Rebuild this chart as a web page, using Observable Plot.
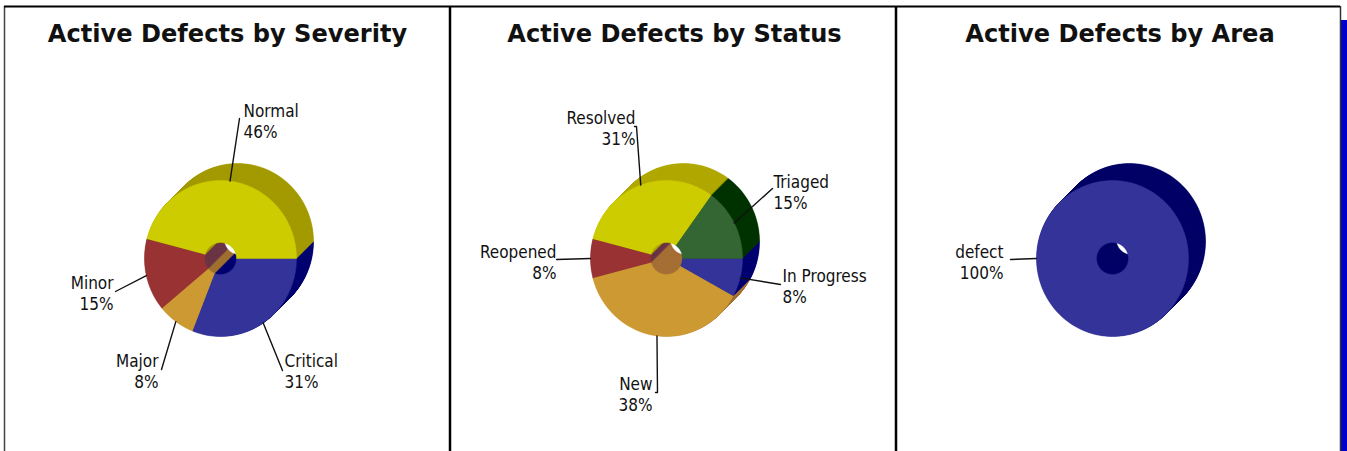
<!DOCTYPE html>
<html><head><meta charset="utf-8">
<style>html,body{margin:0;padding:0;background:#fff}svg{display:block}</style>
<script src="https://cdn.jsdelivr.net/npm/d3@7"></script>
<script src="https://cdn.jsdelivr.net/npm/@observablehq/plot@0.6"></script>
</head><body><div id="chart"></div>
<script>
// ---- data ----
const severityLabels = ["Critical", "Major", "Minor", "Normal"];
const severityValues = [31, 8, 15, 46];
const statusLabels = ["In Progress", "New", "Reopened", "Resolved", "Triaged"];
const statusValues = [8, 38, 8, 31, 15];
const areaLabels = ["defect"];
const areaValues = [100];
const titles = ["Active Defects by Severity", "Active Defects by Status", "Active Defects by Area"];

// ---- styles ----
const severityFront = ["#333399", "#cc9933", "#993333", "#cccc00"];
const severitySide = ["#000070", "#a07030", "#6b3545", "#a39a00"];
const statusFront = ["#333399", "#cc9933", "#993333", "#cccc00", "#336633"];
const statusSide = ["#000070", "#a56f35", "#6b3545", "#b0a800", "#003300"];
const areaFront = ["#333399"];
const areaSide = ["#000066"];

// ---- layout (page-scale units) ----
const pieCenters = [220, 666, 1112];
const titleCenters = [227, 674, 1119.5];
const cy = 258, rx = 76, ry = 78, hole = 16, depth = 17, holeSkew = 1.15;
const labelSpots = [
  [{x: 282, y: 370, tx: 284, ty: 370.5, a: "start"}, {x: 161, y: 369, tx: 158, ty: 370.5, a: "end"},
   {x: 115, y: 291, tx: 113, ty: 292.5, a: "end"}, {x: 239, y: 118, tx: 243, ty: 120.5, a: "start"}],
  [{x: 780, y: 284, tx: 782, ty: 285.5, a: "start"}, {x: 657, y: 392, tx: 652, ty: 393, a: "end", tick: 655},
   {x: 556, y: 259, tx: 556, ty: 261.5, a: "end"}, {x: 636, y: 126, tx: 635, ty: 127.5, a: "end", tick: 634},
   {x: 772, y: 188, tx: 773, ty: 191.5, a: "start"}],
  [{x: 1010, y: 259, tx: 1003, ty: 261, a: "end"}]
];
const panels = [
  {labels: severityLabels, values: severityValues, front: severityFront, side: severitySide},
  {labels: statusLabels, values: statusValues, front: statusFront, side: statusSide},
  {labels: areaLabels, values: areaValues, front: areaFront, side: areaSide}
];

// ---- build slice outlines from the values ----
function sector(a0, a1, cx, s, id, color) {
  const n = Math.max(2, Math.ceil((a1 - a0) / (Math.PI / 90)));
  const pts = [];
  for (let i = 0; i <= n; i++) {
    const a = a0 + (a1 - a0) * i / n;
    pts.push({id, color, px: cx + s + rx * Math.cos(a), py: cy - s + ry * Math.sin(a)});
  }
  for (let i = n; i >= 0; i--) {
    const a = a0 + (a1 - a0) * i / n;
    pts.push({id, color, px: cx + s * holeSkew + hole * Math.cos(a), py: cy - s * holeSkew + hole * Math.sin(a)});
  }
  return pts;
}
const outlines = [], leaders = [], labels = [];
panels.forEach((p, k) => {
  const total = d3.sum(p.values);
  let acc = 0;
  const arcs = p.values.map(v => { const a0 = acc / total * 2 * Math.PI; acc += v; return [a0, acc / total * 2 * Math.PI]; });
  const cx = pieCenters[k];
  for (let s = depth; s > 0; s -= 0.5) {
    arcs.forEach(([a0, a1], i) => outlines.push(...sector(a0, a1, cx, s, `${k}-${i}-${s}`, p.side[i])));
  }
  arcs.forEach(([a0, a1], i) => {
    outlines.push(...sector(a0, a1, cx, 0, `${k}-${i}-f`, p.front[i]));
    const mid = (a0 + a1) / 2, spot = labelSpots[k][i];
    const id = `${k}-${i}`;
    leaders.push({id, px: cx + rx * Math.cos(mid), py: cy + ry * Math.sin(mid)}, {id, px: spot.x, py: spot.y});
    if (spot.tick) leaders.push({id, px: spot.tick, py: spot.y});
    labels.push({text: `${p.labels[i]}\n${p.values[i]}%`, px: spot.tx, py: spot.ty, a: spot.a});
  });
});

const titleRows = titles.map((t, i) => ({t, px: titleCenters[i]}));
const dividers = [4, 449.5, 895.5, 1340];
const textFont = "'DejaVu Sans Condensed','DejaVu Sans',sans-serif";
const labelStyle = {x: "px", y: "py", text: "text", fontFamily: textFont, fontSize: 17, lineHeight: 1.235, fill: "#111"};

const chart = Plot.plot({
  width: 1347, height: 451, margin: 0,
  x: {domain: [0, 1347], range: [0, 1347], axis: null},
  y: {domain: [0, 451], range: [0, 451], axis: null},
  color: {type: "identity"},
  marks: [
    Plot.rectY([0], {x1: 1341, x2: 1347, y1: 20, y2: 451, fill: "#0000cc"}),
    Plot.line(outlines, {x: "px", y: "py", z: "id", fill: "color", stroke: "color", strokeWidth: 0.5, curve: "linear"}),
    Plot.line(leaders, {x: "px", y: "py", z: "id", stroke: "#111", strokeWidth: 1.4, curve: "linear"}),
    Plot.ruleX(dividers.slice(0, 1), {y1: 6, y2: 451, stroke: "#444", strokeWidth: 1.5}),
    Plot.ruleX(dividers.slice(1, 3), {y1: 6, y2: 451, stroke: "#000", strokeWidth: 2.5}),
    Plot.ruleX(dividers.slice(3), {y1: 6, y2: 451, stroke: "#333", strokeWidth: 1.5}),
    Plot.ruleY([6], {x1: 4, x2: 1340, stroke: "#000", strokeWidth: 2}),
    Plot.text(titleRows, {x: "px", y: 34, text: "t", fontFamily: "'DejaVu Sans',sans-serif", fontWeight: "bold", fontSize: 24.1, fill: "#111"}),
    Plot.text(labels.filter(d => d.a === "start"), {...labelStyle, textAnchor: "start"}),
    Plot.text(labels.filter(d => d.a === "end"), {...labelStyle, textAnchor: "end"})
  ]
});
document.getElementById("chart").append(chart);
</script></body></html>
